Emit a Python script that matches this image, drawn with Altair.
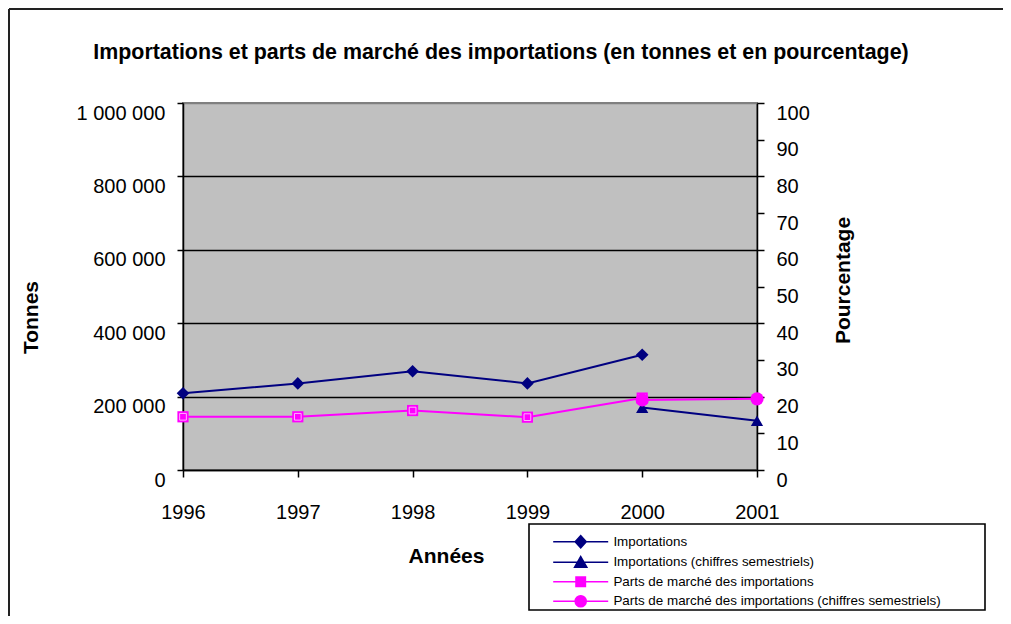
import altair as alt
import pandas as pd

# ---------------- data ----------------
years = [1996, 1997, 1998, 1999, 2000, 2001]
imp_years = [1996, 1997, 1998, 1999, 2000]
imports = [209000, 236000, 269000, 236000, 314000]
sem_years = [2000, 2001]
imports_sem = [170000, 134000]
share = [14.5, 14.5, 16.2, 14.4, 19.6]
share_sem = [19.1, 19.4]
tonnes_ticks = [0, 200000, 400000, 600000, 800000, 1000000]
pct_ticks = [0, 10, 20, 30, 40, 50, 60, 70, 80, 90, 100]
series = [
    "Importations",
    "Importations (chiffres semestriels)",
    "Parts de marché des importations",
    "Parts de marché des importations (chiffres semestriels)",
]
colors = ["#000080", "#000080", "#ff00ff", "#ff00ff"]

NAVY = "#000080"
MAGENTA = "#ff00ff"
FONT = "Liberation Sans"

imp_df = pd.DataFrame({"year": imp_years, "tonnes": imports, "series": series[0]})
imp_sem_df = pd.DataFrame({"year": sem_years, "tonnes": imports_sem, "series": series[1]})
share_df = pd.DataFrame({"year": imp_years, "pct": share, "series": series[2]})
share_sem_df = pd.DataFrame({"year": sem_years, "pct": share_sem, "series": series[3]})

# ---------------- legend (line + marker symbols) ----------------
legend_paths = [
    "M-5,0L5,0M-1,0L0,-1.1L1,0L0,1.1Z",
    "M-5,0L5,0M0,-1L1.1,0.9L-1.1,0.9Z",
    "M-5,0L5,0M-0.85,-0.85L0.85,-0.85L0.85,0.85L-0.85,0.85Z",
    "M-5,0L5,0M1,0A1,1 0 1,1 -1,0A1,1 0 1,1 1,0Z",
]


def make_legend():
    return alt.Legend(
        title=None,
        orient="none",
        legendX=346,
        legendY=424,
        labelFont=FONT,
        labelFontSize=13.4,
        labelColor="black",
        labelLimit=600,
        labelOffset=26,
        symbolOffset=37,
        symbolSize=121,
        symbolStrokeWidth=1.6,
        padding=8,
        rowPadding=2.5,
    )


x_enc = alt.X(
    "year:Q",
    scale=alt.Scale(domain=[years[0], years[-1]], nice=False, zero=False),
    axis=alt.Axis(
        values=years, format="d", title="Années",
        tickSize=7, labelPadding=25, labelFlush=False, labelOverlap=False,
        grid=False, titleX=263, titleY=86, titleBaseline="middle", titleAlign="center",
    ),
)

# ---------------- left (tonnes) ----------------
y_left = alt.Y(
    "tonnes:Q",
    scale=alt.Scale(domain=[0, 1000000], nice=False),
    axis=alt.Axis(
        orient="left", values=tonnes_ticks, title="Tonnes",
        labelExpr="replace(format(datum.value, ',d'), /,/g, '\u00a0')",
        labelBaseline="top", tickSize=6, labelPadding=12,
        grid=True,
        gridColor=alt.condition("datum.value >= 1000000", alt.value("#808080"), alt.value("black")),
        gridWidth=1.5,
        titleX=-152, titleY=214, titleAngle=270, titleBaseline="middle", titleAlign="center",
    ),
)

line_imp = alt.Chart(imp_df).mark_line(color=NAVY, strokeWidth=2).encode(x=x_enc, y=y_left)
pts_imp = alt.Chart(imp_df).mark_point(
    shape="diamond", filled=True, color=NAVY, size=160, opacity=1
).encode(x=x_enc, y=y_left)
line_imp_sem = alt.Chart(imp_sem_df).mark_line(color=NAVY, strokeWidth=2).encode(x=x_enc, y=y_left)
pts_imp_sem = alt.Chart(imp_sem_df).mark_point(
    shape="triangle-up", filled=True, color=NAVY, size=150, opacity=1
).encode(x=x_enc, y=y_left)

# empty layer that only carries the legend (line + marker symbols)
legend_carrier = alt.Chart(imp_df).transform_filter("false").mark_point(
    filled=True, opacity=1, size=121
).encode(
    x=x_enc, y=y_left,
    color=alt.Color("series:N", scale=alt.Scale(domain=series, range=colors), legend=make_legend()),
    stroke=alt.Stroke("series:N", scale=alt.Scale(domain=series, range=colors), legend=make_legend()),
    shape=alt.Shape("series:N", scale=alt.Scale(domain=series, range=legend_paths), legend=make_legend()),
)

left = alt.layer(line_imp, line_imp_sem, pts_imp, pts_imp_sem, legend_carrier)

# ---------------- right (pourcentage) ----------------
y_right = alt.Y(
    "pct:Q",
    scale=alt.Scale(domain=[0, 100], nice=False),
    axis=alt.Axis(
        orient="right", values=pct_ticks, title="Pourcentage",
        labelBaseline="top", tickSize=7, labelPadding=12, grid=False,
        titleX=86, titleY=177, titleAngle=270, titleBaseline="middle", titleAlign="center",
    ),
)

line_share = alt.Chart(share_df).mark_line(color=MAGENTA, strokeWidth=2).encode(x=x_enc, y=y_right)
pts_share = alt.Chart(share_df).mark_point(
    shape="square", filled=True, color=MAGENTA, size=125, opacity=1
).encode(x=x_enc, y=y_right)
pts_share_inner = alt.Chart(share_df).mark_point(
    shape="square", filled=False, stroke="#ffb0ff", strokeWidth=1, size=45, opacity=1
).encode(x=x_enc, y=y_right)
line_share_sem = alt.Chart(share_sem_df).mark_line(color=MAGENTA, strokeWidth=2).encode(x=x_enc, y=y_right)
pts_share_sem = alt.Chart(share_sem_df).mark_point(
    shape="circle", filled=True, color=MAGENTA, size=175, opacity=1
).encode(x=x_enc, y=y_right)

right = alt.layer(line_share, line_share_sem, pts_share, pts_share_inner, pts_share_sem)

# ---------------- decorations: outer frame and legend box ----------------
frame_top = alt.Chart().mark_rule(color="#222222", strokeWidth=2).encode(
    x=alt.value(-174), x2=alt.value(830), y=alt.value(-94)
)
frame_left = alt.Chart().mark_rule(color="#222222", strokeWidth=2).encode(
    x=alt.value(-174), y=alt.value(-94), y2=alt.value(530)
)
legend_box = alt.Chart().mark_rect(fill="white", stroke="black", strokeWidth=1.6).encode(
    x=alt.value(346), x2=alt.value(802), y=alt.value(421), y2=alt.value(507)
)

chart = (
    alt.layer(left, right, frame_top, frame_left, legend_box)
    .resolve_scale(y="independent")
    .properties(
        width=574,
        height=367,
        autosize=alt.AutoSizeParams(type="none"),
        padding={"left": 175, "top": 95, "right": 246, "bottom": 146},
        title=alt.Title(
            text="Importations et parts de marché des importations (en tonnes et en pourcentage)",
            font=FONT, fontSize=21.4, fontWeight="bold", color="black",
            anchor="middle", dx=31, offset=-72, baseline="alphabetic",
        ),
    )
    .configure(font=FONT, background="white")
    .configure_view(fill="#c0c0c0", stroke="#808080", strokeWidth=2)
    .configure_axis(
        domainColor="black", domainWidth=1.5, tickColor="black", tickWidth=1.5,
        labelColor="black", labelFont=FONT, labelFontSize=20,
        titleColor="black", titleFont=FONT, titleFontSize=21, titleFontWeight="bold",
    )
)

chart.save("out.html", embed_options={"renderer": "svg", "actions": False})
